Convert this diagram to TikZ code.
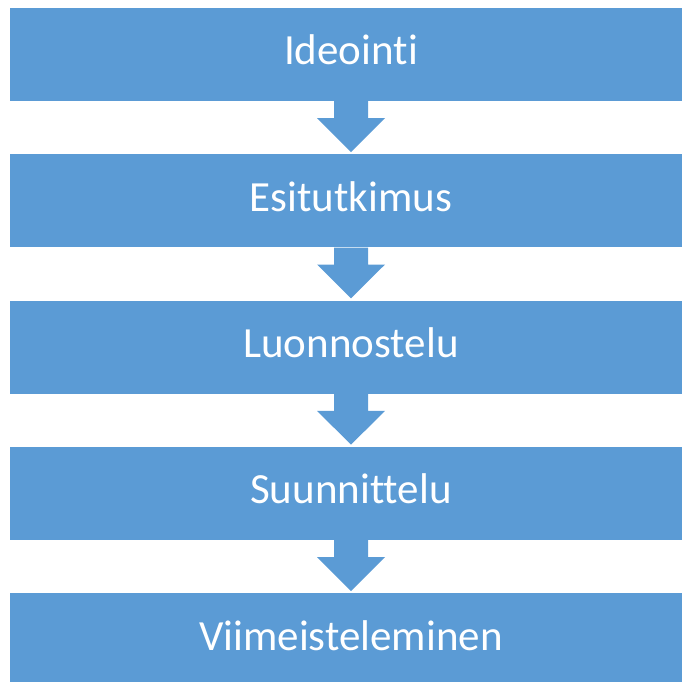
\documentclass[tikz,border=0pt]{standalone}
\usepackage{fontspec}
\setmainfont[Ligatures=NoCommon]{Carlito}
\usetikzlibrary{calc}
\definecolor{boxblue}{HTML}{5B9BD5}
\tikzset{
  stagebox/.style={fill=boxblue, draw=none, minimum width=682pt, minimum height=93pt,
    inner sep=0pt, text=white, text height=30pt, text depth=9pt,
    font=\fontsize{43}{50}\selectfont},
  blockarrow/.style={fill=boxblue, draw=none}
}
\newcommand\flowarrow[2]{%
  \fill[blockarrow] ($(#1.south)+(-17pt,0)$) -- ($(#1.south)+(17pt,0)$)
    -- ($(#1.south)+(17pt,-17pt)$) -- ($(#1.south)+(34pt,-17pt)$)
    -- ($(#2.north)+(0,2pt)$) -- ($(#1.south)+(-34pt,-17pt)$)
    -- ($(#1.south)+(-17pt,-17pt)$) -- cycle;}
\begin{document}
\begin{tikzpicture}
\useasboundingbox (0,0) rectangle (682pt,-682pt);
\node[stagebox] (s1) at (351pt,-54.5pt) {Ideointi};
\node[stagebox] (s2) at (351pt,-200.8pt) {Esitutkimus};
\node[stagebox] (s3) at (351pt,-347.1pt) {Luonnostelu};
\node[stagebox] (s4) at (351pt,-493.4pt) {Suunnittelu};
\node[stagebox] (s5) at (351pt,-639.7pt) {Viimeisteleminen};
\flowarrow{s1}{s2}
\flowarrow{s2}{s3}
\flowarrow{s3}{s4}
\flowarrow{s4}{s5}
\end{tikzpicture}
\end{document}
